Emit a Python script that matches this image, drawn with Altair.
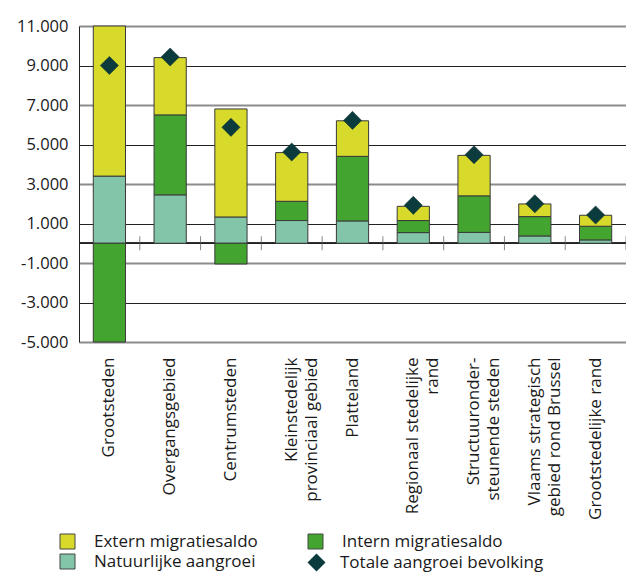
import altair as alt
import pandas as pd

categories = [
    "Grootsteden",
    "Overgangsgebied",
    "Centrumsteden",
    "Kleinstedelijk\nprovinciaal gebied",
    "Platteland",
    "Regionaal stedelijke\nrand",
    "Structuuronder-\nsteunende steden",
    "Vlaams strategisch\ngebied rond Brussel",
    "Grootstedelijke rand",
]
natuurlijk = [3400, 2450, 1330, 1150, 1130, 540, 550, 370, 170]
intern = [-5000, 4050, -1050, 975, 3270, 610, 1850, 980, 690]
extern = [7600, 2900, 5470, 2465, 1800, 720, 2050, 640, 557]
totaal = [9000, 9430, 5870, 4620, 6220, 1920, 4480, 2000, 1430]

# legend order (filled column by column: Extern / Natuurlijke, then Intern)
components = ["Extern migratiesaldo", "Natuurlijke aangroei", "Intern migratiesaldo"]
component_colors = ["#d7d92b", "#83c5a8", "#43a52f"]
stack_order = {"Natuurlijke aangroei": 0, "Intern migratiesaldo": 1, "Extern migratiesaldo": 2}
total_label = "Totale aangroei bevolking"
y_ticks = [-5000, -3000, -1000, 1000, 3000, 5000, 7000, 9000, 11000]
boundaries = [1, 2, 3, 4, 5, 6, 7, 8, 9]

rows = []
for i, cat in enumerate(categories):
    for comp, vals in (("Natuurlijke aangroei", natuurlijk),
                       ("Intern migratiesaldo", intern),
                       ("Extern migratiesaldo", extern)):
        rows.append({"gebied": cat, "component": comp, "waarde": vals[i],
                     "volgorde": stack_order[comp]})
bars_df = pd.DataFrame(rows)
tot_df = pd.DataFrame({"gebied": categories, "totaal": totaal,
                       "reeks": [total_label] * len(categories)})
bnd_df = pd.DataFrame({"grens": boundaries})

FONT = "Open Sans"
TXT = "#1a1a1a"

x_scale = alt.Scale(paddingInner=0.47, paddingOuter=0.235)
y_scale = alt.Scale(domain=[-5000, 11000], nice=False, zero=False)

y_axis = alt.Axis(
    values=y_ticks,
    tickCount=20,
    labelOverlap=False,
    labelExpr="(datum.value < 0 ? '-' : '') + replace(format(abs(datum.value), ','), ',', '.')",
    grid=True,
    gridColor={"condition": {"test": "(datum.value + 5000) % 4000 == 0", "value": "#8c8c8c"},
               "value": "#222222"},
    gridWidth={"condition": {"test": "(datum.value + 5000) % 4000 == 0", "value": 2},
               "value": 1},
    ticks=False,
    domain=True,
    domainColor="#222222",
    domainWidth=1,
    labelFont=FONT,
    labelFontSize=16.5,
    labelColor=TXT,
    labelPadding=11,
    title=None,
)

x_axis = alt.Axis(
    labelAngle=-90,
    labelExpr="split(datum.label, '\\n')",
    labelLineHeight=20,
    labelFont=FONT,
    labelFontSize=17,
    labelColor=TXT,
    labelPadding=15,
    labelLimit=300,
    ticks=False,
    domain=False,
    grid=False,
    title=None,
)

bars = alt.Chart(bars_df).mark_bar(stroke="#3a3a3a", strokeWidth=1).encode(
    x=alt.X("gebied:N", sort=categories, scale=x_scale, axis=x_axis),
    y=alt.Y("waarde:Q", stack="zero", scale=y_scale, axis=y_axis),
    color=alt.Color(
        "component:N",
        scale=alt.Scale(domain=components, range=component_colors),
        legend=alt.Legend(
            title=None, orient="none", legendX=-20, legendY=507, columns=2,
            columnPadding=48, rowPadding=1, padding=0,
            symbolType="square", symbolSize=225, symbolStrokeColor="#444444",
            symbolStrokeWidth=1, labelOffset=18,
            labelFont=FONT, labelFontSize=17, labelColor=TXT, labelLimit=300,
        ),
    ),
    order=alt.Order("volgorde:Q", sort="ascending"),
)

points = alt.Chart(tot_df).mark_point(
    shape="diamond", filled=True, size=330, color="#0b3b3c", opacity=1,
    stroke="#072a2b", strokeWidth=0.5,
).encode(
    x=alt.X("gebied:N", sort=categories, scale=x_scale, axis=x_axis),
    y=alt.Y("totaal:Q", scale=y_scale, axis=y_axis),
    shape=alt.Shape(
        "reeks:N",
        scale=alt.Scale(domain=[total_label], range=["diamond"]),
        legend=alt.Legend(
            title=None, orient="none", legendX=228, legendY=527, padding=0,
            symbolSize=324, symbolFillColor="#0b3b3c", symbolStrokeColor="#072a2b",
            symbolStrokeWidth=0.5, labelOffset=14,
            labelFont=FONT, labelFontSize=17, labelColor=TXT, labelLimit=300,
        ),
    ),
)

zero_rule = alt.Chart(bnd_df).mark_rule(color="#222222", strokeWidth=1).encode(
    y=alt.datum(0, scale=y_scale)
)

band_ticks = alt.Chart(bnd_df).mark_tick(
    orient="vertical", size=14, thickness=1, color="#555555"
).encode(
    x=alt.X("grens:Q", scale=alt.Scale(domain=[0, 9], nice=False, zero=False), axis=None),
    y=alt.datum(0),
)

inner = alt.layer(bars, points)
chart = alt.layer(zero_rule, band_ticks, inner).resolve_scale(x="independent").properties(
    width=547,
    height=316,
    autosize=alt.AutoSizeParams(type="none"),
    padding={"left": 71, "top": 18, "right": 0, "bottom": 231},
    background="white",
).configure_view(stroke=None).configure(font=FONT)

chart.save("out.html", embed_options={"renderer": "svg", "actions": False})
